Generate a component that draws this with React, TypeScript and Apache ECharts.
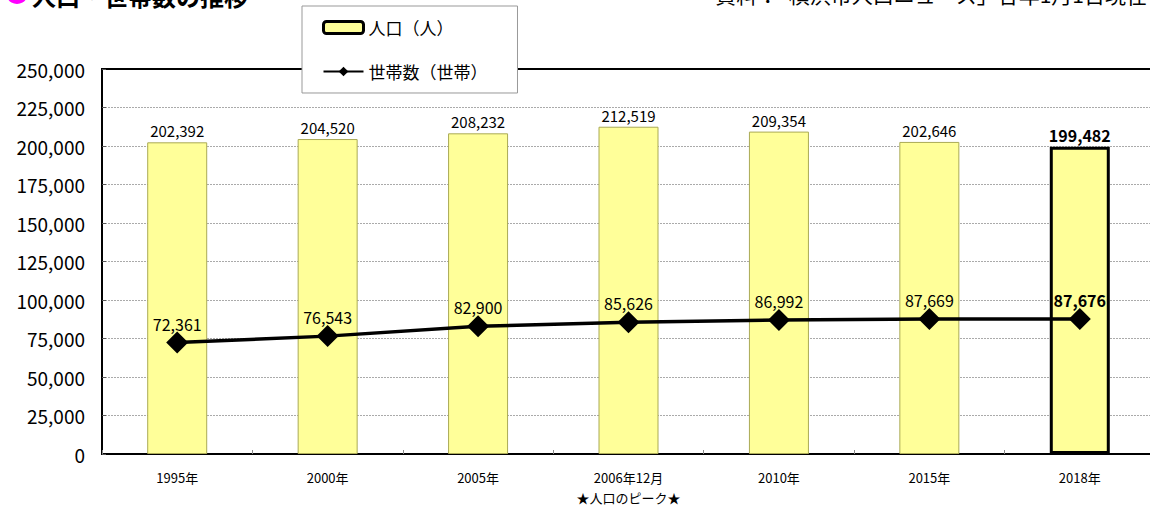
import React, { useEffect, useRef } from "react";
import * as echarts from "echarts";

const categories = ["1995年", "2000年", "2005年", "2006年12月\n★人口のピーク★", "2010年", "2015年", "2018年"];
const population = [202392, 204520, 208232, 212519, 209354, 202646, 199482];
const households = [72361, 76543, 82900, 85626, 86992, 87669, 87676];
const yTicks = { min: 0, max: 250000, interval: 25000 };
const titleText = "人口・世帯数の推移";
const sourceText = "資料：「横浜市人口ニュース」各年1月1日現在";
const popName = "人口（人）";
const hhName = "世帯数（世帯）";

const FONT = "'Noto Sans CJK JP', 'Noto Sans', sans-serif";
const fmt = (v: number) => v.toLocaleString("en-US");

export default function App() {
  const ref = useRef<HTMLDivElement>(null);
  useEffect(() => {
    if (!ref.current) return;
    const chart = echarts.init(ref.current, undefined, { renderer: "svg" });
    const last = population.length - 1;
    chart.setOption({
      animation: false,
      backgroundColor: "#fff",
      textStyle: { fontFamily: FONT, color: "#000" },
      grid: {
        left: 102, top: 69, right: -5, bottom: 53,
        outerBoundsMode: "none",
        containLabel: false,
        show: true, borderColor: "#000", borderWidth: 2, backgroundColor: "transparent",
      },
      legend: {
        orient: "vertical",
        left: 302, top: 6,
        padding: [13, 30, 13, 20],
        itemGap: 27,
        itemWidth: 40, itemHeight: 12,
        backgroundColor: "#fff",
        borderColor: "#999", borderWidth: 1,
        textStyle: { fontSize: 17, color: "#000", fontFamily: FONT },
        data: [
          { name: popName, itemStyle: { color: "#FFFF99", borderColor: "#000", borderWidth: 3 } },
          { name: hhName },
        ],
      },
      graphic: [
        { type: "circle", shape: { cx: 17, cy: -7, r: 11 }, style: { fill: "#FF00FF" } },
        { type: "text", left: 32, top: -17, style: { text: titleText, font: `bold 24px ${FONT}`, fill: "#000" } },
        { type: "text", right: 2, top: -17, style: { text: sourceText, font: `21px ${FONT}`, fill: "#000" } },
      ],
      xAxis: {
        type: "category",
        data: categories,
        axisLine: { lineStyle: { color: "#000", width: 2 } },
        axisTick: { show: true, inside: true, length: 4, lineStyle: { color: "#888" } },
        axisLabel: { fontSize: 13, color: "#000", margin: 13, lineHeight: 20, fontFamily: FONT },
      },
      yAxis: {
        type: "value",
        ...yTicks,
        axisLine: { show: true, lineStyle: { color: "#000", width: 2 } },
        axisTick: { show: true, inside: true, length: 4, lineStyle: { color: "#555" } },
        splitLine: { showMaxLine: false, showMinLine: false, lineStyle: { color: "#aaa", type: [2, 1], width: 1 } },
        axisLabel: { fontSize: 19, color: "#000", margin: 17, formatter: (v: number) => fmt(v), fontFamily: FONT },
      },
      series: [
        {
          name: popName,
          type: "bar",
          barWidth: 60,
          data: population.map((v, i) =>
            i === last
              ? { value: v, itemStyle: { color: "#FFFF99", borderColor: "#000", borderWidth: 3 },
                  label: { fontWeight: "bold", fontSize: 16 } }
              : v
          ),
          itemStyle: { color: "#FFFF99", borderColor: "#AAAA55", borderWidth: 1 },
          label: { show: true, position: "top", distance: 4, fontSize: 15, color: "#000", formatter: (p: any) => fmt(p.value), fontFamily: FONT },
          z: 2,
        },
        {
          name: hhName,
          type: "line",
          data: households.map((v, i) =>
            i === last ? { value: v, label: { fontWeight: "bold" } } : v
          ),
          symbol: "diamond",
          symbolSize: 22,
          itemStyle: { color: "#000" },
          lineStyle: { color: "#000", width: 3.5 },
          label: { show: true, position: "top", distance: 0, fontSize: 16, color: "#000", formatter: (p: any) => fmt(p.value), fontFamily: FONT },
          z: 3,
        },
      ],
    });
    return () => chart.dispose();
  }, []);
  return <div ref={ref} style={{ position: "fixed", left: 0, top: 0, width: 1150, height: 507 }} />;
}
